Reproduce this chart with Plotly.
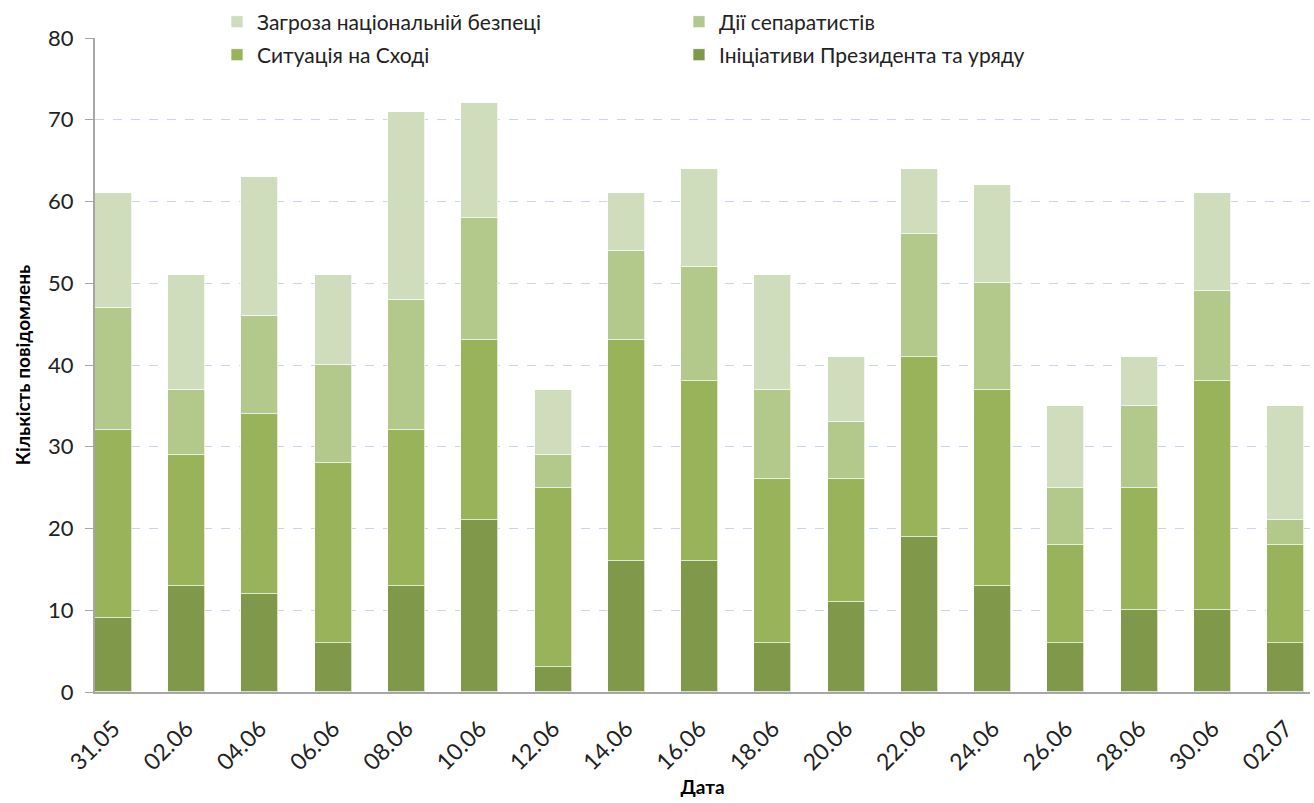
import plotly.graph_objects as go

dates = ["31.05", "02.06", "04.06", "06.06", "08.06", "10.06", "12.06", "14.06", "16.06",
         "18.06", "20.06", "22.06", "24.06", "26.06", "28.06", "30.06", "02.07"]
initiatives = [9, 13, 12, 6, 13, 21, 3, 16, 16, 6, 11, 19, 13, 6, 10, 10, 6]
east = [23, 16, 22, 22, 19, 22, 22, 27, 22, 20, 15, 22, 24, 12, 15, 28, 12]
separatists = [15, 8, 12, 12, 16, 15, 4, 11, 14, 11, 7, 15, 13, 7, 10, 11, 3]
threat = [14, 14, 17, 11, 23, 14, 8, 7, 12, 14, 8, 8, 12, 10, 6, 12, 14]

names = ["Ініціативи Президента та уряду", "Ситуація на Сході", "Дії сепаратистів",
         "Загроза національній безпеці"]
colors = ["#7F984A", "#98B35A", "#B3C98B", "#D0DDBC"]
series = [initiatives, east, separatists, threat]
legends = ["legend2", "legend2", "legend", "legend"]

FONT = "Lato, 'Open Sans', sans-serif"
x_idx = list(range(len(dates)))

fig = go.Figure()
for nm, col, vals, lg in zip(names, colors, series, legends):
    fig.add_trace(go.Bar(
        x=x_idx, y=vals, name=nm, width=0.505,
        marker=dict(color=col, line=dict(color="rgba(255,255,255,0.7)", width=1)),
        legend=lg,
    ))

leg_common = dict(orientation="h", xanchor="left", yanchor="middle",
                  bgcolor="rgba(0,0,0,0)", font=dict(family=FONT, size=21, color="#222222"),
                  entrywidth=417, entrywidthmode="pixels", traceorder="reversed",
                  itemclick=False)

fig.update_layout(
    width=1314, height=803,
    margin=dict(l=95, r=4, t=38, b=111, autoexpand=False),
    paper_bgcolor="white", plot_bgcolor="white",
    barmode="stack", bargap=0,
    showlegend=True,
    legend=dict(x=0.1004, y=1.0245, **leg_common),
    legend2=dict(x=0.1004, y=0.974, **leg_common),
    xaxis=dict(
        tickmode="array", tickvals=x_idx, ticktext=dates,
        range=[-0.25, 16.33], tickangle=-45, automargin=False,
        tickfont=dict(family=FONT, size=23, color="#222222"),
        ticklabelstandoff=12,
        showline=True, linecolor="#A6A6A6", linewidth=2, showgrid=False,
        ticks="", zeroline=False,
        title=dict(text="<b>Дата</b>", font=dict(family=FONT, size=19, color="#000000"), standoff=6),
    ),
    yaxis=dict(
        range=[0, 80], dtick=10, automargin=False,
        tickfont=dict(family=FONT, size=22, color="#222222"),
        ticklabelstandoff=7,
        showline=True, linecolor="#A6A6A6", linewidth=2,
        ticks="outside", ticklen=8, tickcolor="#A6A6A6",
        showgrid=True, gridcolor="#C6D6EE", griddash="dash", gridwidth=1,
        zeroline=False,
        title=dict(text="<b>Кількість повідомлень</b>", font=dict(family=FONT, size=19, color="#000000"), standoff=12),
    ),
)

fig.write_html("out.html", config={"displayModeBar": False},
               post_script="document.body.style.margin='0';")
